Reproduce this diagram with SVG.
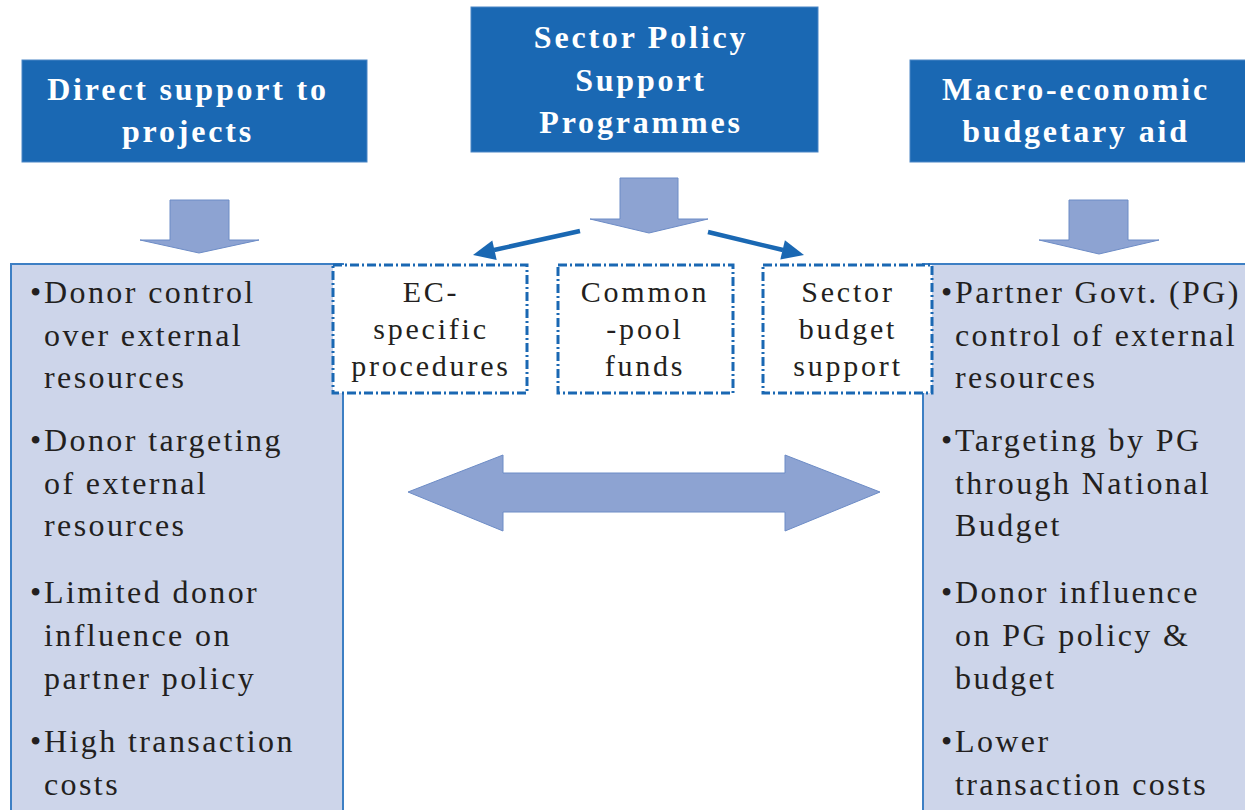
<svg xmlns="http://www.w3.org/2000/svg" width="1245" height="810" viewBox="0 0 1245 810">
<style>
.hdr{fill:#1A68B3;stroke:#4a86c6;stroke-width:1}
.ht{font-family:"Liberation Serif",serif;font-weight:bold;font-size:32px;letter-spacing:2.8px;fill:#ffffff;text-anchor:middle}
.panel{fill:#CDD5EA;stroke:#3d7fc4;stroke-width:2}
.pt{font-family:"Liberation Serif",serif;font-size:32px;letter-spacing:2.4px;fill:#231F20}
.dbox{fill:#ffffff;stroke:#1A68B3;stroke-width:3;stroke-dasharray:9 3 2 3}
.dt{font-family:"Liberation Serif",serif;font-size:30px;letter-spacing:2.8px;fill:#231F20;text-anchor:middle}
.blk{fill:#8DA3D2;stroke:#6d8cc6;stroke-width:1}
.thin{stroke:#1A68B3;stroke-width:4.5;fill:none}
.head{fill:#1A68B3}
</style>
<rect width="1245" height="810" fill="#ffffff"/>

<g id="panel-left">
<rect class="panel" x="11" y="264" width="332" height="560"/>
<text class="pt" y="303"><tspan x="30">•</tspan><tspan x="44">Donor control</tspan></text>
<text class="pt" x="44" y="346">over external</text>
<text class="pt" x="44" y="388">resources</text>
<text class="pt" y="451"><tspan x="30">•</tspan><tspan x="44">Donor targeting</tspan></text>
<text class="pt" x="44" y="494">of external</text>
<text class="pt" x="44" y="536">resources</text>
<text class="pt" y="603"><tspan x="30">•</tspan><tspan x="44">Limited donor</tspan></text>
<text class="pt" x="44" y="646">influence on</text>
<text class="pt" x="44" y="689">partner policy</text>
<text class="pt" y="752"><tspan x="30">•</tspan><tspan x="44">High transaction</tspan></text>
<text class="pt" x="44" y="795">costs</text>
</g>

<g id="panel-right">
<rect class="panel" x="923" y="264" width="340" height="560"/>
<text class="pt" y="303"><tspan x="941">•</tspan><tspan x="955">Partner Govt. (PG)</tspan></text>
<text class="pt" x="955" y="346">control of external</text>
<text class="pt" x="955" y="388">resources</text>
<text class="pt" y="451"><tspan x="941">•</tspan><tspan x="955">Targeting by PG</tspan></text>
<text class="pt" x="955" y="494">through National</text>
<text class="pt" x="955" y="536">Budget</text>
<text class="pt" y="603"><tspan x="941">•</tspan><tspan x="955">Donor influence</tspan></text>
<text class="pt" x="955" y="646">on PG policy &amp;</text>
<text class="pt" x="955" y="689">budget</text>
<text class="pt" y="752"><tspan x="941">•</tspan><tspan x="955">Lower</tspan></text>
<text class="pt" x="955" y="795">transaction costs</text>
</g>

<g id="hdr-left">
<rect class="hdr" x="22" y="60" width="345" height="102"/>
<text class="ht" x="188" y="100">Direct support to</text>
<text class="ht" x="188" y="142">projects</text>
</g>

<g id="hdr-center">
<rect class="hdr" x="471" y="7" width="347" height="145"/>
<text class="ht" x="641" y="48">Sector Policy</text>
<text class="ht" x="641" y="91">Support</text>
<text class="ht" x="641" y="133">Programmes</text>
</g>

<g id="hdr-right">
<rect class="hdr" x="910" y="60" width="340" height="102"/>
<text class="ht" x="1076" y="100">Macro-economic</text>
<text class="ht" x="1076" y="142">budgetary aid</text>
</g>

<g id="box-ec">
<rect class="dbox" x="333" y="265" width="194" height="128"/>
<text class="dt" x="431" y="302">EC-</text>
<text class="dt" x="431" y="339">specific</text>
<text class="dt" x="431" y="376">procedures</text>
</g>

<g id="box-pool">
<rect class="dbox" x="558" y="265" width="175" height="128"/>
<text class="dt" x="645" y="302">Common</text>
<text class="dt" x="645" y="339">-pool</text>
<text class="dt" x="645" y="376">funds</text>
</g>

<g id="box-sbs">
<rect class="dbox" x="763" y="265" width="169" height="128"/>
<text class="dt" x="848" y="302">Sector</text>
<text class="dt" x="848" y="339">budget</text>
<text class="dt" x="848" y="376">support</text>
</g>

<g id="connectors">
<polygon class="blk" points="170,200 229,200 229,240 259,240 199,253 140,240 170,240"/>
<polygon class="blk" points="620,178 678,178 678,219 708,219 649,233 590,219 620,219"/>
<polygon class="blk" points="1069,200 1128,200 1128,240 1159,240 1099,254 1039,240 1069,240"/>
<line class="thin" x1="580" y1="231" x2="494" y2="250"/>
<polygon class="head" points="473,255 496.7,260 492.3,240.5"/>
<line class="thin" x1="708" y1="232" x2="783" y2="250"/>
<polygon class="head" points="804,255 780.3,259.6 784.9,240.2"/>
<polygon class="blk" stroke="#5b80c0" points="408,492 503,455 503,473 785,473 785,455 880,492 785,531 785,512 503,512 503,531"/>
</g>
</svg>
